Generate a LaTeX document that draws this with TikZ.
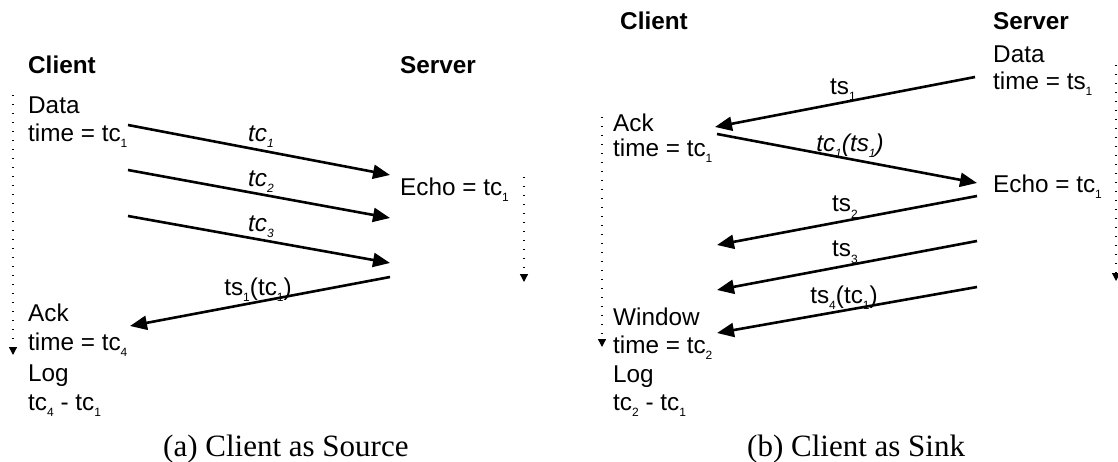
\documentclass[tikz,border=0pt]{standalone}
\usepackage{fontspec}
\setmainfont{Liberation Sans}
\newfontfamily\capfont{Liberation Serif}
\usetikzlibrary{arrows.meta}
\newcommand\sbs[1]{\raisebox{-6pt}{\fontsize{12}{12}\selectfont #1}}
\tikzset{
  msg/.style={line width=2.6pt, -{Triangle[length=17pt,width=14pt]}},
  life/.style={line width=1.3pt, dash pattern=on 1.3pt off 7.7pt, -{Triangle[length=8pt,width=8pt]}},
  txt/.style={anchor=base west, inner sep=0pt, font=\fontsize{24.3}{28}\selectfont},
  hdr/.style={txt, font=\fontsize{24.3}{28}\selectfont\bfseries},
  lbl/.style={anchor=base, inner sep=0pt, font=\fontsize{24.3}{28}\selectfont},
  ilbl/.style={lbl, font=\fontsize{24.3}{28}\selectfont\itshape},
  captext/.style={anchor=base west, inner sep=0pt, font=\capfont\fontsize{31}{36}\selectfont},
}
\begin{document}
\begin{tikzpicture}[x=1pt,y=-1pt]
\useasboundingbox (0,0) rectangle (1118,462);
% ---------------- (a) Client as Source ----------------
\node[hdr] (aclient) at (28,73.5) {Client};
\node[hdr] (aserver) at (400,73.5) {Server};
\node[txt] (adata) at (28,114) {Data};
\node[txt] (atime1) at (28,142) {time = tc\sbs{1}};
\node[txt] (aecho) at (400,196) {Echo = tc\sbs{1}};
\node[txt] (aack) at (28,321) {Ack};
\node[txt] (atime4) at (28,350) {time = tc\sbs{4}};
\node[txt] (alog) at (28,381) {Log};
\node[txt] (adiff) at (28,410) {tc\sbs{4} - tc\sbs{1}};
\coordinate (alc0) at (13,95);
\coordinate (alc1) at (13,355);
\coordinate (als0) at (524,177);
\coordinate (als1) at (524,282);
\draw[life] (alc0) -- (alc1);
\draw[life] (als0) -- (als1);
\coordinate (a1s) at (128,125); \coordinate (a1e) at (390,175);
\coordinate (a2s) at (128,170); \coordinate (a2e) at (390,218);
\coordinate (a3s) at (128,216); \coordinate (a3e) at (390,263);
\coordinate (a4s) at (390,277); \coordinate (a4e) at (130,326);
\draw[msg] (a1s) -- (a1e);
\draw[msg] (a2s) -- (a2e);
\draw[msg] (a3s) -- (a3e);
\draw[msg] (a4s) -- (a4e);
\node[ilbl] (la1) at (261,142) {tc\sbs{1}};
\node[ilbl] (la2) at (261,187) {tc\sbs{2}};
\node[ilbl] (la3) at (261,232) {tc\sbs{3}};
\node[lbl] (la4) at (258,295) {ts\sbs{1}(tc\sbs{1})};
\node[captext] (capa) at (163,456) {(a) Client as Source};
% ---------------- (b) Client as Sink ----------------
\node[hdr] (bclient) at (620,30) {Client};
\node[hdr] (bserver) at (993,30) {Server};
\node[txt] (bdata) at (993,63) {Data};
\node[txt] (btimes) at (993,90) {time = ts\sbs{1}};
\node[txt] (back) at (613,132) {Ack};
\node[txt] (btime1) at (613,157) {time = tc\sbs{1}};
\node[txt] (becho) at (993,193) {Echo = tc\sbs{1}};
\node[txt] (bwin) at (613,325) {Window};
\node[txt] (btime2) at (613,353) {time = tc\sbs{2}};
\node[txt] (blog) at (613,382) {Log};
\node[txt] (bdiff) at (613,410) {tc\sbs{2} - tc\sbs{1}};
\coordinate (blc0) at (602,117);
\coordinate (blc1) at (602,347);
\coordinate (bls0) at (1116,65);
\coordinate (bls1) at (1116,281);
\draw[life] (blc0) -- (blc1);
\draw[life] (bls0) -- (bls1);
\coordinate (b1s) at (975,77);  \coordinate (b1e) at (715,127);
\coordinate (b2s) at (717,134); \coordinate (b2e) at (977,183);
\coordinate (b3s) at (977,196); \coordinate (b3e) at (717,245);
\coordinate (b4s) at (977,241); \coordinate (b4e) at (717,290);
\coordinate (b5s) at (977,287); \coordinate (b5e) at (717,333);
\draw[msg] (b1s) -- (b1e);
\draw[msg] (b2s) -- (b2e);
\draw[msg] (b3s) -- (b3e);
\draw[msg] (b4s) -- (b4e);
\draw[msg] (b5s) -- (b5e);
\node[lbl] (lb1) at (843,95) {ts\sbs{1}};
\node[ilbl] (lb2) at (850,152) {tc\sbs{1}(ts\sbs{1})};
\node[lbl] (lb3) at (845,212) {ts\sbs{2}};
\node[lbl] (lb4) at (845,257) {ts\sbs{3}};
\node[lbl] (lb5) at (844,303) {ts\sbs{4}(tc\sbs{1})};
\node[captext] (capb) at (747,456) {(b) Client as Sink};
\end{tikzpicture}
\end{document}
